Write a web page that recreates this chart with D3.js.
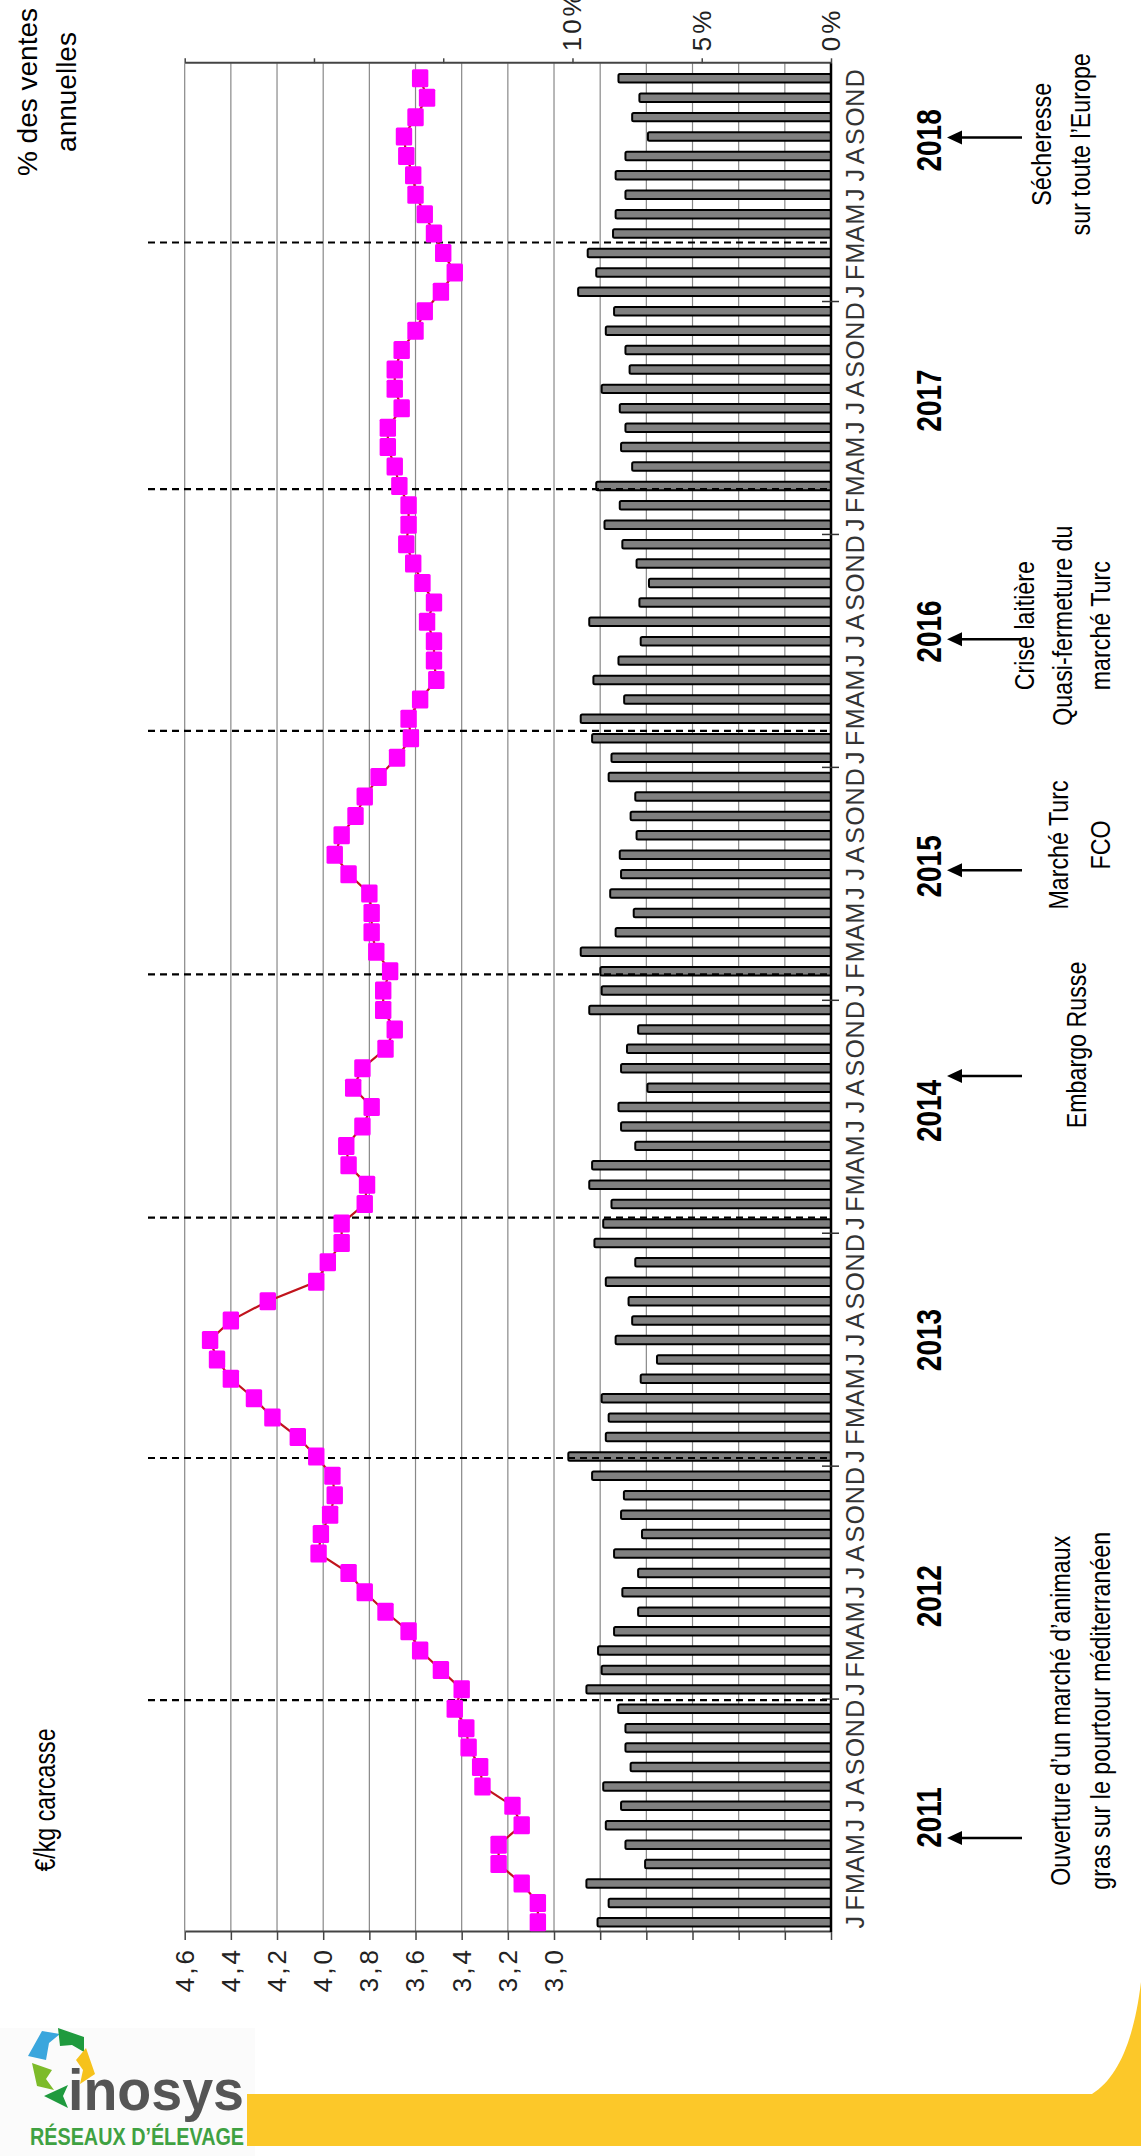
<!DOCTYPE html>
<html><head><meta charset="utf-8">
<script src="https://cdn.jsdelivr.net/npm/d3@7"></script>
<style>body{margin:0;background:#fff}svg{display:block}</style>
</head><body>
<script>
// ---------- DATA ----------
const years = [2011, 2012, 2013, 2014, 2015, 2016, 2017, 2018];
const monthLetters = ["J","F","M","A","M","J","J","A","S","O","N","D"];
const priceTickLabels = [4.6, 4.4, 4.2, 4.0, 3.8, 3.6, 3.4, 3.2, 3.0];
const pctTickLabels = [0, 5, 10];

// % des ventes annuelles, by month
const sales2011 = [9.07, 8.64, 9.50, 7.23, 7.99, 8.75, 8.16, 8.85, 7.79, 7.99, 7.99, 8.27];
const sales2012 = [9.50, 8.91, 9.05, 8.43, 7.50, 8.11, 7.50, 8.43, 7.35, 8.16, 8.05, 9.28];
const sales2013 = [10.20, 8.75, 8.64, 8.91, 7.40, 6.77, 8.37, 7.73, 7.87, 8.75, 7.61, 9.19];
const sales2014 = [8.85, 8.53, 9.39, 9.28, 7.61, 8.16, 8.26, 7.14, 8.16, 7.93, 7.50, 9.39];
const sales2015 = [8.91, 8.96, 9.72, 8.37, 7.67, 8.58, 8.16, 8.21, 7.56, 7.79, 7.61, 8.64];
const sales2016 = [8.53, 9.28, 9.72, 8.04, 9.23, 8.26, 7.40, 9.39, 7.45, 7.08, 7.56, 8.11];
const sales2017 = [8.80, 8.21, 9.12, 7.73, 8.16, 7.99, 8.21, 8.91, 7.83, 7.99, 8.75, 8.43];
const sales2018 = [9.82, 9.12, 9.45, 8.47, 8.37, 7.99, 8.37, 7.99, 7.12, 7.73, 7.45, 8.26];

// €/kg carcasse, by month
const price2011 = [3.07, 3.07, 3.14, 3.24, 3.24, 3.14, 3.18, 3.31, 3.32, 3.37, 3.38, 3.43];
const price2012 = [3.40, 3.49, 3.58, 3.63, 3.73, 3.82, 3.89, 4.02, 4.01, 3.97, 3.95, 3.96];
const price2013 = [4.03, 4.11, 4.22, 4.30, 4.40, 4.46, 4.49, 4.40, 4.24, 4.03, 3.98, 3.92];
const price2014 = [3.92, 3.82, 3.81, 3.89, 3.90, 3.83, 3.79, 3.87, 3.83, 3.73, 3.69, 3.74];
const price2015 = [3.74, 3.71, 3.77, 3.79, 3.79, 3.80, 3.89, 3.95, 3.92, 3.86, 3.82, 3.76];
const price2016 = [3.68, 3.62, 3.63, 3.58, 3.51, 3.52, 3.52, 3.55, 3.52, 3.57, 3.61, 3.64];
const price2017 = [3.63, 3.63, 3.67, 3.69, 3.72, 3.72, 3.66, 3.69, 3.69, 3.66, 3.60, 3.56];
const price2018 = [3.49, 3.43, 3.48, 3.52, 3.56, 3.60, 3.61, 3.64, 3.65, 3.60, 3.55, 3.58];

const salesPct = [].concat(sales2011, sales2012, sales2013, sales2014, sales2015, sales2016, sales2017, sales2018);
const pricePerKg = [].concat(price2011, price2012, price2013, price2014, price2015, price2016, price2017, price2018);

// annotations (month index along the time axis)
const yearLabelAt = [5.9, 17.3, 30.5, 42.3, 54.9, 67.0, 78.9, 92.3];
const yearDividerAt = [11.95, 24.42, 36.8, 49.34, 61.88, 74.33, 87.04];
const eventArrowAt = [4.84, 44.1, 54.7, 66.6, 92.45];
const eventTextAt = [11.4, 45.7, 56.0, 67.3, 92.1];
const eventTexts = [
  ["Ouverture d\u2019un marché d\u2019animaux", "gras sur le pourtour méditerranéen"],
  ["Embargo Russe"],
  ["Marché Turc", "FCO"],
  ["Crise laitière", "Quasi-fermeture du", "marché Turc"],
  ["Sécheresse", "sur toute l\u2019Europe"]
];

// ---------- LAYOUT ----------
const W = 1141, H = 2156;
const U0 = 224, U1 = 2087.4, UAX = 2092.7;
const VTOP = 184.7, VBASE = 831;
const SANS = "'Liberation Sans',Arial,sans-serif";

function narrow(sel, k) {
  sel.each(function () {
    const L = this.getComputedTextLength();
    d3.select(this).attr("textLength", L * k).attr("lengthAdjust", "spacingAndGlyphs");
  });
}

const svg = d3.select("body").append("svg").attr("width", W).attr("height", H)
  .style("font-family", SANS);
svg.append("rect").attr("width", W).attr("height", H).attr("fill", "#fff");

const g = svg.append("g").attr("transform", `translate(0,${H}) rotate(-90)`);

const n = salesPct.length;
const x = d3.scaleBand().domain(d3.range(n)).range([U0, U1]).paddingInner(0.46).paddingOuter(0.23);
const bw = x.bandwidth();
const mpos = d3.scaleLinear().domain([0, n]).range([U0, U1]);
const yP = d3.scaleLinear().domain([1.8, 4.6]).range([VBASE, VTOP]);
const yS = d3.scaleLinear().domain([0, 25]).range([VBASE, VTOP]);

// gridlines
const gridVals = d3.range(14).map(i => +(2.0 + 0.2 * i).toFixed(1));
g.append("g").selectAll("line").data(gridVals).join("line")
  .attr("x1", U0).attr("x2", UAX)
  .attr("y1", d => yP(d)).attr("y2", d => yP(d))
  .attr("stroke", "#888").attr("stroke-width", 1.2);

// left (price) axis
const leftAx = g.append("g").attr("transform", `translate(${U0},0)`)
  .call(d3.axisLeft(yP)
    .tickValues(d3.range(15).map(i => +(1.8 + 0.2 * i).toFixed(1)))
    .tickSize(8).tickSizeOuter(0).tickPadding(7)
    .tickFormat(d => priceTickLabels.some(t => Math.abs(t - d) < 1e-6) ? d3.format(".1f")(d).replace(".", ",") : ""));
leftAx.select(".domain").attr("stroke", "#444").attr("stroke-width", 2);
leftAx.selectAll(".tick line").attr("stroke", "#444").attr("stroke-width", 1.5);
leftAx.selectAll(".tick text").attr("font-size", 26).attr("letter-spacing", 3)
  .attr("fill", "#222").attr("font-family", SANS);

// right (%) axis
const rightAx = g.append("g").attr("transform", `translate(${UAX},0)`)
  .call(d3.axisRight(yS).tickValues([0, 5, 10, 15, 20, 25])
    .tickSize(5).tickSizeOuter(0).tickPadding(7)
    .tickFormat(d => pctTickLabels.includes(d) ? d + "%" : ""));
rightAx.select(".domain").attr("stroke", "#444").attr("stroke-width", 2);
rightAx.selectAll(".tick line").attr("stroke", "#444").attr("stroke-width", 1.5);
rightAx.selectAll(".tick text").attr("font-size", 26).attr("letter-spacing", 3)
  .attr("fill", "#222").attr("font-family", SANS);

// bars
g.append("g").selectAll("rect").data(salesPct).join("rect")
  .attr("x", (d, i) => x(i) + 1).attr("width", bw - 2)
  .attr("y", d => yS(d) + 1).attr("height", d => yS(0) - yS(d) - 1)
  .attr("rx", 1.5)
  .attr("fill", "#808080").attr("stroke", "#000").attr("stroke-width", 2);

// base axis line
g.append("line").attr("x1", U0).attr("x2", UAX).attr("y1", VBASE).attr("y2", VBASE)
  .attr("stroke", "#000").attr("stroke-width", 2.5);

// year boundary ticks
g.append("g").selectAll("line").data(years.slice(1)).join("line")
  .attr("x1", (d, k) => mpos(12 * (k + 1))).attr("x2", (d, k) => mpos(12 * (k + 1)))
  .attr("y1", VBASE - 9).attr("y2", VBASE + 8)
  .attr("stroke", "#333").attr("stroke-width", 1.5);

// year dividers (dashed)
g.append("g").selectAll("line").data(yearDividerAt).join("line")
  .attr("x1", d => mpos(d)).attr("x2", d => mpos(d))
  .attr("y1", 148).attr("y2", VBASE)
  .attr("stroke", "#000").attr("stroke-width", 2.2).attr("stroke-dasharray", "7,5");

// price line + markers
const line = d3.line().x((d, i) => x(i) + bw / 2).y(d => yP(d));
g.append("path").datum(pricePerKg).attr("d", line)
  .attr("fill", "none").attr("stroke", "#c0141c").attr("stroke-width", 2.2);
g.append("g").selectAll("rect").data(pricePerKg).join("rect")
  .attr("x", (d, i) => x(i) + bw / 2 - 9).attr("width", 18)
  .attr("y", d => yP(d) - 8.2).attr("height", 16.4)
  .attr("rx", 1.5).attr("fill", "#ff00ff");

// month letters
g.append("g").selectAll("text").data(d3.range(n)).join("text")
  .attr("x", i => x(i) + bw / 2).attr("y", 845).attr("dy", "0.74em")
  .attr("text-anchor", "middle").attr("font-size", 25).attr("fill", "#333")
  .text(i => monthLetters[i % 12]);

// year labels
const yl = g.append("g").selectAll("text").data(years).join("text")
  .attr("x", (d, k) => mpos(yearLabelAt[k])).attr("y", 928).attr("dy", "0.36em")
  .attr("text-anchor", "middle").attr("font-size", 35).attr("font-weight", "bold")
  .attr("fill", "#000").text(d => d);
narrow(yl, 0.8);

// event arrows
const arr = g.append("g");
eventArrowAt.forEach(p => {
  const u = mpos(p);
  arr.append("line").attr("x1", u).attr("x2", u).attr("y1", 1022).attr("y2", 960)
    .attr("stroke", "#000").attr("stroke-width", 2.5);
  arr.append("path").attr("d", `M${u - 7},${962} L${u + 7},${962} L${u},${947} Z`).attr("fill", "#000");
});

// event texts
const lineV = [[1060, 1100], [1076], [1058, 1100], [1024, 1062, 1100], [1041, 1080]];
eventTexts.forEach((lines, k) => {
  lines.forEach((t, j) => {
    const tx = g.append("text").attr("x", mpos(eventTextAt[k])).attr("y", lineV[k][j]).attr("dy", "0.36em")
      .attr("text-anchor", "middle").attr("font-size", 28)
      .attr("fill", "#000").text(t);
    narrow(tx, 0.83);
  });
});

// axis titles
const t1 = g.append("text").attr("x", H - 1800).attr("y", 45).attr("dy", "0.36em")
  .attr("text-anchor", "middle").attr("font-size", 29).attr("fill", "#000").text("€/kg carcasse");
narrow(t1, 0.8);
g.append("text").attr("x", H - 92).attr("y", 27).attr("dy", "0.36em")
  .attr("text-anchor", "middle").attr("font-size", 28).attr("fill", "#000").text("% des ventes");
g.append("text").attr("x", H - 92).attr("y", 66).attr("dy", "0.36em")
  .attr("text-anchor", "middle").attr("font-size", 28).attr("fill", "#000").text("annuelles");

// ---------- footer (upright) ----------
svg.append("rect").attr("x", 0).attr("y", 2028).attr("width", 255).attr("height", 128).attr("fill", "#fbfbfb");
svg.append("rect").attr("x", 247).attr("y", 2094).attr("width", W - 247).attr("height", 52).attr("fill", "#fcc829");
svg.append("path").attr("d", "M1092,2094 C1118,2078 1134,2040 1141,1982 L1141,2094 Z").attr("fill", "#fcc829");

const logo = svg.append("g");
logo.append("path").attr("d", "M28,2056 L42,2031 L60,2034 L49,2043 L46,2060 Z").attr("fill", "#3aa6dd");
logo.append("path").attr("d", "M58,2028 L84,2037 L84,2052 L72,2045 L60,2046 Z").attr("fill", "#1f9a3e");
logo.append("path").attr("d", "M86,2048 L95,2074 L80,2084 L83,2070 L76,2060 Z").attr("fill", "#f6c21c");
logo.append("path").attr("d", "M32,2063 L52,2070 L46,2079 L54,2090 L37,2086 Z").attr("fill", "#7dbb2a");
logo.append("path").attr("d", "M68,2085 L44,2096 L68,2108 L63,2096 Z").attr("fill", "#1f9a3e");
logo.append("text").attr("x", 68).attr("y", 2110).attr("font-size", 58).attr("font-weight", "bold")
  .attr("fill", "#555").attr("textLength", 176).attr("lengthAdjust", "spacingAndGlyphs")
  .text("inosys");
logo.append("text").attr("x", 30).attr("y", 2145).attr("font-size", 24).attr("font-weight", "bold")
  .attr("fill", "#3fa142").attr("textLength", 214).attr("lengthAdjust", "spacingAndGlyphs")
  .text("RÉSEAUX D\u2019ÉLEVAGE");
</script>
</body></html>
